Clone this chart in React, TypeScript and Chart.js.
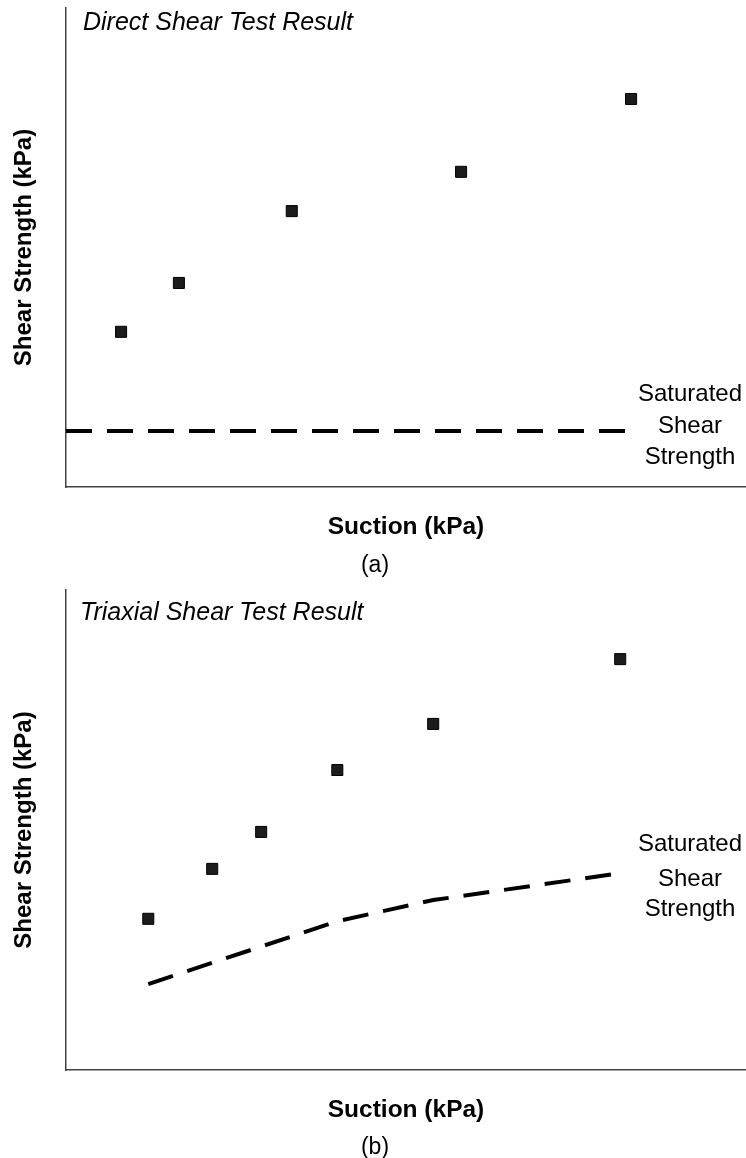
import React, { useEffect, useRef } from "react";
import { Chart, registerables } from "chart.js";

Chart.register(...registerables);

// ---- Data (arbitrary units; axes have no ticks) ----
const directSuction = [8.1, 16.6, 33.2, 58.1, 83.1];
const directStrength = [32.4, 42.6, 57.6, 65.8, 81.0];
const directSatSuction = [0, 82.6];
const directSatStrength = [11.7, 11.7];

const triaxialSuction = [12.1, 21.5, 28.7, 39.9, 54.0, 81.5];
const triaxialStrength = [31.5, 41.9, 49.6, 62.5, 72.1, 85.6];
const triaxialSatSuction = [12.1, 39.9, 54.0, 81.5];
const triaxialSatStrength = [17.9, 31.0, 35.4, 41.0];

const xTitle = "Suction (kPa)";
const yTitle = "Shear Strength (kPa)";
const satLabel = ["Saturated", "Shear", "Strength"];
const titles = ["Direct Shear Test Result", "Triaxial Shear Test Result"];
const captions = ["(a)", "(b)"];

const FONT = "'Liberation Sans', Arial, Helvetica, sans-serif";

const zip = (xs: number[], ys: number[]) => xs.map((x, i) => ({ x, y: ys[i] }));

type Panel = {
  title: string;
  caption: string;
  pts: { x: number; y: number }[];
  sat: { x: number; y: number }[];
  xScaleHeight: number;
  xTitlePadBottom: number;
  titleOffset: [number, number];
  labelCenterX: number;
  labelLineYs: number[];
  captionY: number;
};

function makeChart(canvas: HTMLCanvasElement, p: Panel) {
  const textPlugin = {
    id: "panelText",
    afterDraw(chart: any) {
      const { ctx, chartArea } = chart;
      ctx.save();
      ctx.fillStyle = "#000";
      ctx.font = `italic 25px ${FONT}`;
      ctx.textAlign = "left";
      ctx.textBaseline = "alphabetic";
      ctx.fillText(p.title, chartArea.left + p.titleOffset[0], chartArea.top + p.titleOffset[1]);
      ctx.font = `24px ${FONT}`;
      ctx.textAlign = "center";
      ctx.textBaseline = "middle";
      satLabel.forEach((t, i) => ctx.fillText(t, p.labelCenterX, p.labelLineYs[i]));
      ctx.font = `23px ${FONT}`;
      ctx.fillText(p.caption, 375, p.captionY);
      ctx.restore();
    },
  };

  return new Chart(canvas, {
    type: "scatter",
    data: {
      datasets: [
        {
          data: p.sat,
          showLine: true,
          borderColor: "#000",
          borderWidth: 4,
          borderDash: [26, 15],
          pointRadius: 0,
          fill: false,
          tension: 0,
        },
        {
          data: p.pts,
          pointStyle: "rect",
          pointRadius: 7.8,
          backgroundColor: "#1c1c1c",
          borderColor: "#000",
          borderWidth: 1,
          showLine: false,
        },
      ],
    },
    options: {
      responsive: false,
      animation: false,
      layout: { autoPadding: false, padding: { top: 8, left: 0, right: 0, bottom: 0 } },
      plugins: { legend: { display: false }, tooltip: { enabled: false } },
      scales: {
        x: {
          type: "linear",
          min: 0,
          max: 100,
          grid: { display: false },
          ticks: { display: false },
          border: { display: true, color: "#444", width: 1.5 },
          title: {
            display: true,
            text: xTitle,
            color: "#000",
            font: { family: FONT, size: 24.5, weight: "bold" },
            padding: { top: 0, bottom: p.xTitlePadBottom },
          },
          afterFit: (s: any) => {
            s.height = p.xScaleHeight;
          },
        },
        y: {
          type: "linear",
          min: 0,
          max: 100,
          grid: { display: false },
          ticks: { display: false },
          border: { display: true, color: "#444", width: 1.5 },
          title: {
            display: true,
            text: yTitle,
            color: "#000",
            font: { family: FONT, size: 24, weight: "bold" },
            padding: { top: 10, bottom: 0 },
          },
          afterFit: (s: any) => {
            s.width = 66;
          },
        },
      },
    },
    plugins: [textPlugin],
  } as any);
}

export default function App() {
  const ref1 = useRef<HTMLCanvasElement>(null);
  const ref2 = useRef<HTMLCanvasElement>(null);

  useEffect(() => {
    const c1 = makeChart(ref1.current!, {
      title: titles[0],
      caption: captions[0],
      pts: zip(directSuction, directStrength),
      sat: zip(directSatSuction, directSatStrength),
      xScaleHeight: 95,
      xTitlePadBottom: 40.3,
      titleOffset: [17, 22],
      labelCenterX: 690,
      labelLineYs: [394, 426, 457],
      captionY: 566,
    });
    const c2 = makeChart(ref2.current!, {
      title: titles[1],
      caption: captions[1],
      pts: zip(triaxialSuction, triaxialStrength),
      sat: zip(triaxialSatSuction, triaxialSatStrength),
      xScaleHeight: 88,
      xTitlePadBottom: 33.3,
      titleOffset: [14, 30],
      labelCenterX: 690,
      labelLineYs: [844 - 582, 879 - 582, 909 - 582],
      captionY: 1148 - 582,
    });
    return () => {
      c1.destroy();
      c2.destroy();
    };
  }, []);

  return (
    <div style={{ position: "absolute", left: 0, top: 0, width: 746, height: 1158, background: "#fff" }}>
      <canvas ref={ref1} width={746} height={582} style={{ position: "absolute", left: 0, top: 0, display: "block" }} />
      <canvas ref={ref2} width={746} height={576} style={{ position: "absolute", left: 0, top: 582, display: "block" }} />
    </div>
  );
}
